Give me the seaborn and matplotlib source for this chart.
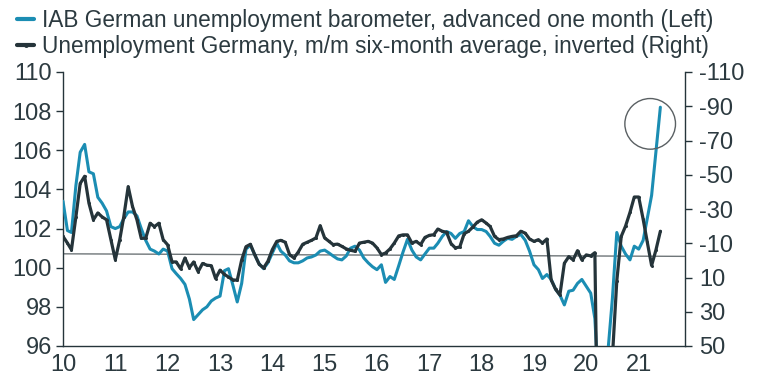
import pandas as pd
import matplotlib
matplotlib.use("Agg")
import matplotlib.pyplot as plt
import matplotlib.dates as mdates
from matplotlib.lines import Line2D
import seaborn as sns

# monthly, Jan 2010 - Jun 2021
months = pd.date_range("2010-01-01", "2021-06-01", freq="MS")

# IAB barometer, advanced one month (left axis)
iab = [
    103.4, 101.9, 101.8, 104.2, 105.9, 106.3, 104.9, 104.8, 103.6, 103.3, 102.9, 102.1,
    102.0, 102.1, 102.5, 102.85, 102.85, 102.65, 102.0, 101.4, 100.95, 100.85, 100.7, 100.95,
    100.85, 99.95, 99.7, 99.45, 99.15, 98.4, 97.35, 97.6, 97.85, 98.0, 98.3, 98.45,
    98.55, 99.85, 99.95, 99.1, 98.25, 99.2, 100.95, 101.15, 100.65, 100.2, 99.95, 100.25,
    100.75, 101.25, 100.85, 100.65, 100.35, 100.25, 100.25, 100.35, 100.5, 100.55, 100.65, 100.85,
    100.9, 100.75, 100.6, 100.45, 100.4, 100.6, 101.0, 101.1, 100.9, 100.5, 100.25, 100.05,
    99.9, 100.15, 99.25, 99.55, 99.4, 100.1, 100.8, 101.45, 100.9, 100.55, 100.4, 100.7,
    101.0, 101.0, 101.25, 101.6, 101.85, 101.75, 101.5, 101.75, 101.85, 102.4, 102.1, 101.95,
    101.95, 101.85, 101.6, 101.25, 101.15, 101.35, 101.5, 101.45, 101.6, 101.7, 101.4, 100.85,
    100.15, 99.9, 99.45, 99.65, 99.4, 98.9, 98.6, 98.1, 98.8, 98.85, 99.2, 99.4,
    99.05, 98.7, 97.4, 93.2, 94.0, 95.8, 98.4, 101.8, 101.1, 100.7, 100.4, 101.1,
    100.95, 101.4, 102.5, 103.7, 105.9, 108.2,
]

# unemployment change m/m, six-month average, thousands (right axis, inverted)
unemp = [
    -14.0, -10.1, -6.2, -25.4, -44.9, -49.1, -33.4, -23.7, -27.7, -25.4, -23.7, -12.1,
    -0.4, -12.1, -25.4, -43.1, -31.5, -23.7, -12.9, -12.9, -21.7, -19.7, -21.7, -12.1,
    -9.1, 0.9, 0.9, 4.9, -1.4, 4.3, 0.9, 6.6, 1.8, 2.8, 3.1, 10.6,
    5.7, 8.2, 9.7, 11.4, 11.6, -0.3, -8.0, -9.4, -3.1, 2.3, 4.4, 0.5,
    -6.3, -11.1, -11.7, -10.6, -3.4, -1.4, -4.9, -9.4, -10.6, -11.7, -13.1, -20.3,
    -13.1, -11.1, -9.2, -9.5, -8.2, -6.7, -5.9, -5.3, -10.1, -10.6, -11.1, -10.1,
    -7.3, -3.4, -4.3, -6.7, -10.1, -14.3, -14.9, -14.9, -10.1, -11.1, -9.2, -13.4,
    -14.6, -15.0, -18.3, -17.0, -16.4, -9.8, -7.3, -7.8, -15.6, -17.0, -19.5, -22.3,
    -23.7, -21.8, -19.8, -14.0, -12.1, -12.5, -13.4, -14.0, -14.4, -17.0, -15.9, -12.5,
    -11.1, -12.1, -10.1, -12.5, 11.4, 16.9, 20.2, 1.7, -2.2, -0.3, -5.7, -0.3,
    -3.2, -2.6, -4.5, 180.0, 230.0, 150.0, 57.0, 12.0, -14.0, -20.0, -28.0, -37.0,
    -37.0, -24.0, -11.0, 3.0, -6.0, -17.0,
]

# thin grey reference line across the chart (left-axis units)
ref_dates = ["2010-01-01", "2021-11-20"]
ref_vals = [100.71, 100.58]

left_ticks = list(range(96, 111, 2))
right_ticks = list(range(-110, 51, 20))

label_iab = "IAB German unemployment barometer, advanced one month (Left)"
label_unemp = "Unemployment Germany, m/m six-month average, inverted (Right)"

blue = "#1b8db3"
dark = "#25343a"
text_c = "#2c3a40"

df = pd.DataFrame({"date": months, "iab": iab, "unemp": unemp})

sns.set_style("white")
plt.rcParams["font.family"] = ["Liberation Sans", "DejaVu Sans"]
plt.rcParams["axes.unicode_minus"] = False

fig = plt.figure(figsize=(7.6, 3.89), dpi=100)
ax = fig.add_axes([63 / 760, 1 - 346 / 389, (685 - 63) / 760, (346 - 72) / 389])

ax.plot(pd.to_datetime(ref_dates), ref_vals, color="#6f7679", lw=1.0, zorder=1)
sns.lineplot(data=df, x="date", y="iab", ax=ax, color=blue, lw=2.2, zorder=3)

ax2 = ax.twinx()
sns.lineplot(data=df, x="date", y="unemp", ax=ax2, color=dark, lw=2.3,
             marker="o", markersize=2.2, markeredgewidth=0, zorder=4)

ax.set_xlim(pd.Timestamp("2010-01-01"), pd.Timestamp("2021-11-20"))
ax.set_ylim(96, 110)
ax2.set_ylim(50, -110)
ax.set_yticks(left_ticks)
ax2.set_yticks(right_ticks)
ax.xaxis.set_major_locator(mdates.YearLocator())
ax.xaxis.set_major_formatter(mdates.DateFormatter("%y"))

for a in (ax, ax2):
    a.set_xlabel("")
    a.set_ylabel("")
    a.spines["top"].set_visible(False)
    for s in a.spines.values():
        s.set_color(dark)
        s.set_linewidth(1.0)
    a.tick_params(colors=dark, labelcolor=text_c, labelsize=17, length=5, width=1)
    a.grid(False)
ax.tick_params(axis="x", pad=1)
ax.tick_params(axis="y", pad=3)
ax2.tick_params(axis="y", pad=5)
ax.spines["right"].set_visible(False)
ax2.spines["left"].set_visible(False)
ax2.spines["bottom"].set_visible(False)

# circle round the latest reading
ax.scatter([pd.Timestamp("2021-03-22")], [107.35], s=1330, facecolors="none",
           edgecolors="#5a6063", linewidths=1.0, zorder=5, clip_on=False)

handles = [Line2D([], [], color=blue, lw=3),
           Line2D([], [], color=dark, lw=3, marker="o", markersize=2.5)]
fig.legend(handles, [label_iab, label_unemp], loc="upper left",
           bbox_to_anchor=(0.008, 1.005), frameon=False, fontsize=16.3,
           handlelength=0.75, handletextpad=0.35, labelspacing=0.1,
           borderaxespad=0.1, labelcolor=text_c)

fig.savefig("out.png", dpi=100)
